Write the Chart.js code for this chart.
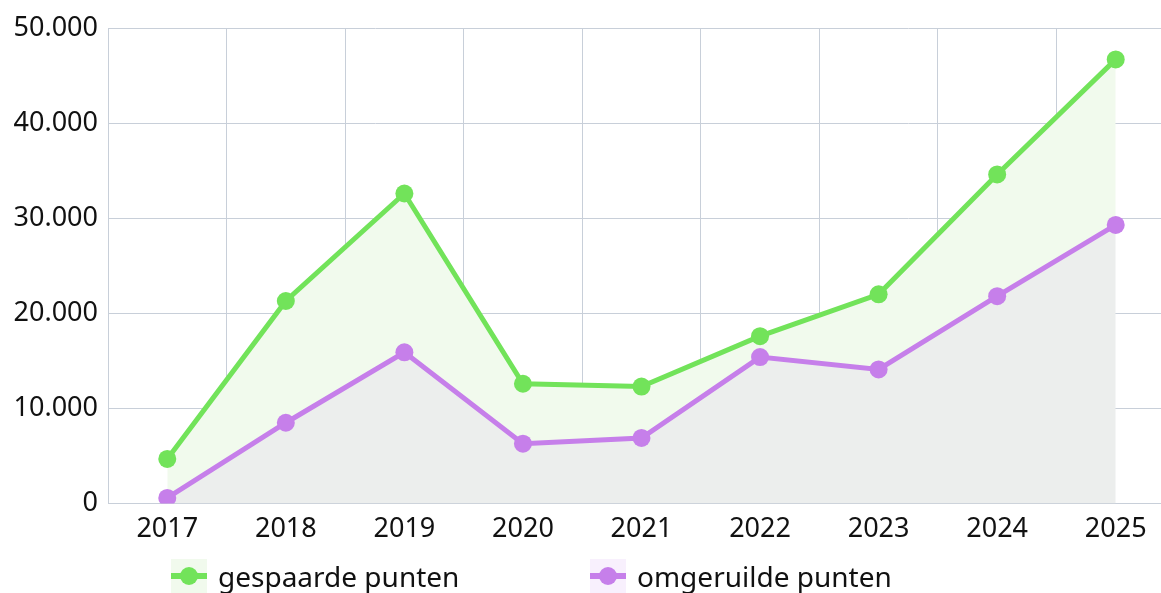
<!DOCTYPE html>
<html lang="nl">
<head>
<meta charset="utf-8">
<title>Punten per jaar</title>
<script src="https://cdn.jsdelivr.net/npm/chart.js@4/dist/chart.umd.min.js"></script>
<style>
    html, body { margin: 0; padding: 0; background: #fff; overflow: hidden; }
    body { width: 1161px; height: 593px; position: relative; font-family: "Noto Sans", sans-serif; }
    #main-chart { position: absolute; left: 0; top: 0; }
    #legend { position: absolute; top: 559px; left: 0; width: 1161px; height: 34px; }
    .legend-item { position: absolute; top: 0; display: flex; align-items: center; height: 34px; }
    .legend-icon { position: relative; width: 36px; height: 34px; margin-right: 11px; }
    .legend-icon .bar { position: absolute; left: 0; right: 0; top: 14px; height: 6px; }
    .legend-icon .dot { position: absolute; left: 9px; top: 8px; width: 18px; height: 18px; border-radius: 50%; }
    .legend-text { font-size: 28px; color: #111; line-height: 34px; }
</style>
</head>
<body>
<canvas id="main-chart" width="1184" height="561"></canvas>
<div id="legend"></div>
<script>
const jaren = ["2017", "2018", "2019", "2020", "2021", "2022", "2023", "2024", "2025"];
const gespaarde_punten = [4700, 21300, 32600, 12600, 12300, 17600, 22000, 34600, 46700];
const omgeruilde_punten = [600, 8500, 15900, 6300, 6900, 15400, 14100, 21800, 29300];
const y_ticks = [0, 10000, 20000, 30000, 40000, 50000];

const groen = "#72e35a";
const groen_vlak = "#f1faed";
const paars = "#c67fea";
const paars_vlak = "#eceeed";
const paars_legend = "#f8f0fd";
const raster = "#c8cfd9";

const formatteer = (v) => String(v).replace(/\B(?=(\d{3})+(?!\d))/g, ".");

const ctx = document.getElementById("main-chart").getContext("2d");
const main_chart = new Chart(ctx, {
    type: "line",
    data: {
        labels: jaren,
        datasets: [
            {
                label: "gespaarde punten",
                data: gespaarde_punten,
                borderColor: groen,
                backgroundColor: groen_vlak,
                pointBackgroundColor: groen,
                pointBorderColor: groen,
                fill: "+1",
            },
            {
                label: "omgeruilde punten",
                data: omgeruilde_punten,
                borderColor: paars,
                backgroundColor: paars_vlak,
                pointBackgroundColor: paars,
                pointBorderColor: paars,
                fill: "origin",
            },
        ],
    },
    options: {
        responsive: false,
        animation: false,
        devicePixelRatio: 1,
        layout: {
            padding: { top: 28, right: 3, bottom: 5, left: 0 },
        },
        plugins: {
            legend: { display: false },
            tooltip: { enabled: false },
            filler: { drawTime: "beforeDatasetsDraw" },
        },
        elements: {
            line: { borderWidth: 5, tension: 0 },
            point: { radius: 9, borderWidth: 0, hoverRadius: 9 },
        },
        scales: {
            x: {
                offset: true,
                grid: {
                    offset: true,
                    color: raster,
                    drawTicks: false,
                },
                border: { color: raster },
                ticks: {
                    padding: 10,
                    color: "#111",
                    font: { family: "Noto Sans", size: 27 },
                    maxRotation: 0,
                },
            },
            y: {
                min: 0,
                max: 50000,
                afterBuildTicks: (axis) => {
                    axis.ticks = y_ticks.map((v) => ({ value: v }));
                },
                afterFit: (axis) => {
                    axis.width = 108;
                },
                grid: {
                    color: raster,
                    drawTicks: false,
                },
                border: { color: raster },
                ticks: {
                    padding: 10,
                    color: "#111",
                    font: { family: "Noto Sans", size: 27 },
                    callback: (v) => formatteer(v),
                },
            },
        },
    },
});

// legenda onder de grafiek
const legend_posities = [171, 590];
const legend_vlakken = [groen_vlak, paars_legend];
const legend = document.getElementById("legend");
main_chart.data.datasets.forEach((ds, i) => {
    const item = document.createElement("div");
    item.className = "legend-item";
    item.style.left = legend_posities[i] + "px";
    item.innerHTML =
        `<div class="legend-icon" style="background:${legend_vlakken[i]}">` +
        `<div class="bar" style="background:${ds.borderColor}"></div>` +
        `<div class="dot" style="background:${ds.borderColor}"></div></div>` +
        `<span class="legend-text">${ds.label}</span>`;
    legend.appendChild(item);
});
</script>
</body>
</html>
